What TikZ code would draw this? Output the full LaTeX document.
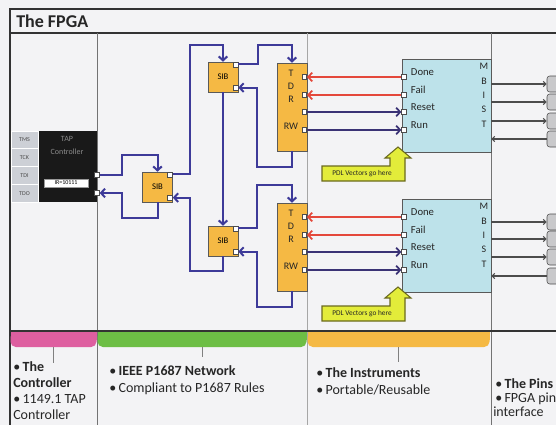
\documentclass[tikz,border=0pt]{standalone}
\usepackage{fontspec}
\setmainfont{Carlito}
\usetikzlibrary{positioning, arrows.meta, calc}
\definecolor{paper}{HTML}{F3F3F5}
\definecolor{scanblue}{HTML}{3D3A99}
\definecolor{ctrlnavy}{HTML}{3A3275}
\definecolor{flagred}{HTML}{E4483B}
\definecolor{sibfill}{HTML}{F5B944}
\definecolor{mbistfill}{HTML}{BDE2EA}
\definecolor{pdlyellow}{HTML}{E3EC3A}
\definecolor{pdledge}{HTML}{6B6A1E}
\definecolor{barpink}{HTML}{DE5FA0}
\definecolor{bargreen}{HTML}{6DBE45}
\definecolor{tapgray}{HTML}{CDD0D6}
\definecolor{pingray}{HTML}{C9C9CB}
\tikzset{
    frame/.style={draw=black!80, line width=1pt},
    divider/.style={draw=black!55, line width=0.6pt},
    heading/.style={font=\fontsize{13.5}{15}\selectfont\bfseries, inner sep=0pt, text=black!85},
    sibbox/.style={draw=black!65, fill=sibfill, minimum width=22.5pt, minimum height=22.5pt, inner sep=0pt, font=\fontsize{6.5}{7}\selectfont},
    tdrbox/.style={draw=black!65, fill=sibfill, minimum width=22.5pt, minimum height=66pt, inner sep=0pt},
    tdrtext/.style={font=\fontsize{7.5}{8}\selectfont, inner sep=0pt, text=black!85},
    mbistbox/.style={draw=black!65, fill=mbistfill, minimum width=66.75pt, minimum height=69.75pt, inner sep=0pt},
    mbisttext/.style={font=\fontsize{7.5}{10.8}\selectfont, align=center, inner sep=0pt, text=black!85},
    sigtext/.style={font=\fontsize{8}{9}\selectfont, inner sep=0pt, text=black!85},
    port/.style={draw=black!70, fill=white, minimum size=3.6pt, inner sep=0pt},
    pinbox/.style={draw=black!70, fill=pingray, rounded corners=2pt, minimum width=13.5pt, minimum height=12pt, inner sep=0pt},
    tapbox/.style={fill=black!90, minimum width=44.25pt, minimum height=53.25pt, inner sep=0pt},
    tapcell/.style={draw=white, fill=tapgray, minimum width=20.25pt, minimum height=13.3pt, inner sep=0pt, font=\fontsize{4.5}{5}\selectfont, text=black!70},
    taptext/.style={font=\fontsize{6}{9.75}\selectfont, align=center, inner sep=0pt, text=black!45},
    irbox/.style={fill=white, draw=black!40, minimum width=33pt, minimum height=6pt, inner sep=0pt, font=\fontsize{4.5}{5}\selectfont},
    pdlbox/.style={draw=pdledge, fill=pdlyellow, line width=0.8pt},
    pdltext/.style={font=\fontsize{5.5}{6}\selectfont, inner sep=0pt, text=black!85},
    scan/.style={draw=scanblue, line width=1.5pt, ->},
    flag/.style={draw=flagred, line width=1.3pt, ->},
    ctrl/.style={draw=ctrlnavy, line width=1.3pt, ->},
    pinlink/.style={draw=black!70, line width=0.9pt, -{Straight Barb[length=2pt, width=4pt]}},
    stem/.style={draw=black!50, line width=0.6pt},
    notetext/.style={anchor=base west, font=\fontsize{10.5}{12}\selectfont, inner sep=0pt, text=black!85}
}

\begin{document}
\begin{tikzpicture}[x=0.75pt, y=-0.75pt, >={Straight Barb[length=3pt, width=6.5pt]}]
  \useasboundingbox (0,0) rectangle (556,425);
  \clip (0,0) rectangle (556,425);
  \fill[paper] (0,0) rectangle (556,425);

  % frame and columns
  \draw[frame] (556,9) -- (10,9) -- (10,425);
  \draw[frame] (10,33) -- (556,33);
  \node[heading, anchor=west] (fpga) at (16,21) {The FPGA};
  \draw[divider] (97,33) -- (97,425);
  \draw[divider, draw=black!35] (307,33) -- (307,425);
  \draw[divider] (491,33) -- (491,425);
  \draw[frame, line width=1.5pt] (10,331) -- (556,331);

  % bars under the picture
  \foreach \a/\b/\c/\s in {10/97/barpink/363, 97/307/bargreen/357, 307/490/sibfill/362}{
    \fill[\c, rounded corners=4pt] (\a+0.5,332) rectangle (\b-0.5,347);
    \fill[\c] (\a+0.5,332) rectangle (\b-0.5,340);
    \draw[stem] (\a/2+\b/2,347) -- (\a/2+\b/2,\s);
  }

  % TAP controller
  \node[tapbox] (tap) at (67.5,166.5) {};
  \foreach \n/\y [count=\i] in {TMS/139.9, TCK/157.6, TDI/175.4, TDO/193.1}
    \node[tapcell] (tap-c\i) at (24.5,\y) {\n};
  \node[taptext] (tap-t) at (67,145) {TAP\\Controller};
  \node[irbox] (ir) at (66,183) {IR=10111};
  \node[port] (tap-p1) at (97,175) {};
  \node[port] (tap-p2) at (97,193) {};

  % SIBs
  \node[sibbox] (sib1) at (157.5,187) {SIB};
  \node[sibbox] (sib2) at (223,77) {SIB};
  \node[sibbox] (sib3) at (223,241) {SIB};
  \foreach \s in {sib1, sib2, sib3}{
    \node[port, anchor=north east] (\s-a) at (\s.north east) {};
    \node[port, anchor=south east] (\s-b) at ([yshift=1.5pt]\s.south east) {};
  }

  % TDRs and instruments
  \foreach \r/\dy in {1/0, 2/140}{
    \node[tdrbox] (tdr\r) at (292,107+\dy) {};
    \foreach \t/\ty [count=\k] in {T/73, D/86, R/99, RW/126}
      \node[tdrtext] (tdr\r-t\k) at (291,\ty+\dy) {\t};
    \node[mbistbox] (mbist\r) at (446.5,105.5+\dy) {};
    \node[mbisttext, anchor=north] (mbist\r-t) at (484,63+\dy) {M\\B\\I\\S\\T};
    \foreach \sig/\py [count=\k] in {Done/77, Fail/95, Reset/112, Run/130}{
      \node[port, anchor=east] (tdr\r-p\k) at (307,\py+\dy) {};
      \node[port] (mbist\r-p\k) at (404,\py+\dy) {};
      \node[sigtext, right=3pt of mbist\r-p\k, anchor=base west, yshift=1pt] (mbist\r-s\k) {\sig};
    }
    \draw[flag] (mbist\r-p1) -- (tdr\r-p1);
    \draw[flag] (mbist\r-p2) -- (tdr\r-p2);
    \draw[ctrl] (tdr\r-p3) -- (mbist\r-p3);
    \draw[ctrl] (tdr\r-p4) -- (mbist\r-p4);
    % PDL callout
    \draw[pdlbox] (322,166+\dy) -- (390,166+\dy) -- (390,158+\dy) -- (385,158+\dy) -- (398,147+\dy)
      -- (411,158+\dy) -- (405,158+\dy) -- (405,181+\dy) -- (322,181+\dy) -- cycle;
    \node[pdltext] (pdl\r) at (362,174+\dy) {PDL Vectors go here};
  }

  % pins
  \foreach \py [count=\k] in {84,102,121,139}
    \node[pinbox] (pin1-\k) at (556,\py) {};
  \foreach \py [count=\k] in {222,239,257,276}
    \node[pinbox] (pin2-\k) at (556,\py) {};
  \foreach \r in {1,2}{
    \foreach \k in {1,2,3}
      \draw[pinlink] (mbist\r.east |- pin\r-\k) -- (pin\r-\k);
    \draw[pinlink] (pin\r-4) -- (mbist\r.east |- pin\r-4);
  }

  % scan path
  \draw[scan] (tap-p1) -| (122,155) -| (sib1);
  \draw[scan] (sib1) |- (122,218) |- (tap-p2);
  \draw[scan] (sib1-a) -| (190,45) -| (sib2);
  \draw[scan] (sib2-a) -| (258,45) -| (tdr1);
  \draw[scan] (tdr1) |- (257,167) |- (sib2-b);
  \draw[scan] (sib2) -- (sib3);
  \draw[scan] (sib3-a) -| (257,185) -| (tdr2);
  \draw[scan] (tdr2) |- (257,307) |- (sib3-b);
  \draw[scan] (sib3) |- (190,271) |- (sib1-b);

  % notes
  \node[notetext] (n1) at (13,371) {•\,\textbf{The}};
  \node[notetext] (n2) at (13,387) {\textbf{Controller}};
  \node[notetext] (n3) at (13,403) {•\,1149.1 TAP};
  \node[notetext] (n4) at (13,419) {Controller};
  \node[notetext] (n5) at (109,375) {•\,\textbf{IEEE P1687 Network}};
  \node[notetext] (n6) at (109,392) {•\,Compliant to P1687 Rules};
  \node[notetext] (n7) at (316,377) {•\,\textbf{The Instruments}};
  \node[notetext] (n8) at (316,394) {•\,Portable/Reusable};
  \node[notetext] (n9) at (495,388) {•\,\textbf{The Pins}};
  \node[notetext] (n10) at (495,402) {•\,FPGA pin};
  \node[notetext] (n11) at (493,416) {interface};
\end{tikzpicture}
\end{document}
